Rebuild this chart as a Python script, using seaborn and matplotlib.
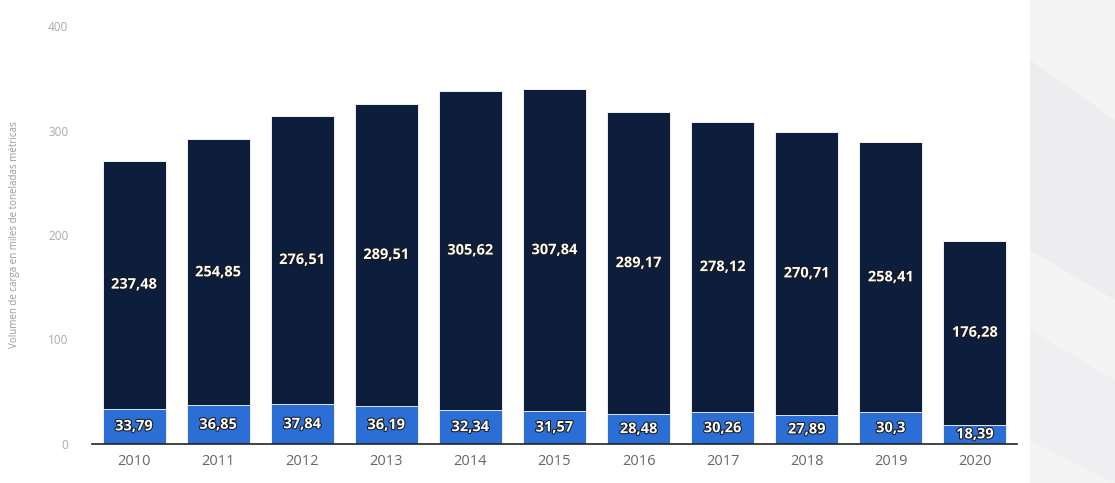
import matplotlib
matplotlib.use('Agg')
import matplotlib.pyplot as plt
import matplotlib.patheffects as pe
from matplotlib.patches import Polygon
import pandas as pd
import seaborn as sns

anios = ['2010', '2011', '2012', '2013', '2014', '2015', '2016', '2017', '2018', '2019', '2020']
superior = [237.48, 254.85, 276.51, 289.51, 305.62, 307.84, 289.17, 278.12, 270.71, 258.41, 176.28]
inferior = [33.79, 36.85, 37.84, 36.19, 32.34, 31.57, 28.48, 30.26, 27.89, 30.3, 18.39]
yticks = [0, 100, 200, 300, 400]

colOscuro = '#0c1e3b'
colAzul = '#2b6fd6'

datos = pd.DataFrame({'anio': anios, 'sup': superior, 'inf': inferior})
datos['total'] = datos['sup'] + datos['inf']

sns.set_style('white')
plt.rcParams['font.family'] = ['Open Sans', 'DejaVu Sans']

fig = plt.figure(figsize=(11.15, 4.83), dpi=100)

# marca de agua gris a la derecha
for pts, c in [([(1030, 0), (1115, 0), (1115, 483), (1030, 483)], '#f4f4f5'),
               ([(1030, 60), (1115, 120), (1115, 300), (1030, 250)], '#ededef'),
               ([(1030, 330), (1115, 380), (1115, 483), (1030, 440)], '#efeff1')]:
    fig.patches.append(Polygon([(x / 1115, 1 - y / 483) for x, y in pts], closed=True,
                               transform=fig.transFigure, facecolor=c, edgecolor='none', zorder=0))

ax = fig.add_axes([92 / 1115, 1 - 444 / 483, (1017 - 92) / 1115, (444 - 26) / 483])
ax.patch.set_alpha(0)

sns.barplot(data=datos, x='anio', y='total', color=colOscuro, width=0.75, ax=ax,
            saturation=1, edgecolor='white', linewidth=0.6)
sns.barplot(data=datos, x='anio', y='inf', color=colAzul, width=0.75, ax=ax,
            saturation=1, edgecolor='white', linewidth=0.6)

contorno = [pe.withStroke(linewidth=1.5, foreground='#1a1a1a')]
for i, fila in datos.iterrows():
    ax.text(i, fila['inf'] + fila['sup'] / 2, f"{fila['sup']:g}".replace('.', ','),
            ha='center', va='center', color='white', fontsize=10.5, fontweight='bold',
            path_effects=contorno)
    ax.text(i, fila['inf'] / 2, f"{fila['inf']:g}".replace('.', ','),
            ha='center', va='center', color='white', fontsize=10.5, fontweight='bold',
            path_effects=contorno)

ax.set_xlim(-0.5, 10.5)
ax.set_ylim(0, 400)
ax.set_yticks(yticks)
ax.set_yticklabels([str(t) for t in yticks])
ax.set_xlabel('')
ax.set_ylabel('Volumen de carga en miles de toneladas métricas', fontsize=7, color='#999999')
ax.yaxis.set_label_coords(-0.078, 0.5)
ax.tick_params(axis='y', colors='#aaaaaa', labelsize=8.5, length=0, pad=17)
ax.tick_params(axis='x', colors='#777777', labelsize=10.5, length=0, pad=7)
for t in ax.get_xticklabels():
    t.set_color('#666666')
for lado in ['top', 'right', 'left']:
    ax.spines[lado].set_visible(False)
ax.spines['bottom'].set_color('#222222')
ax.spines['bottom'].set_linewidth(1.2)

plt.savefig('out.png', dpi=100)
plt.close()
